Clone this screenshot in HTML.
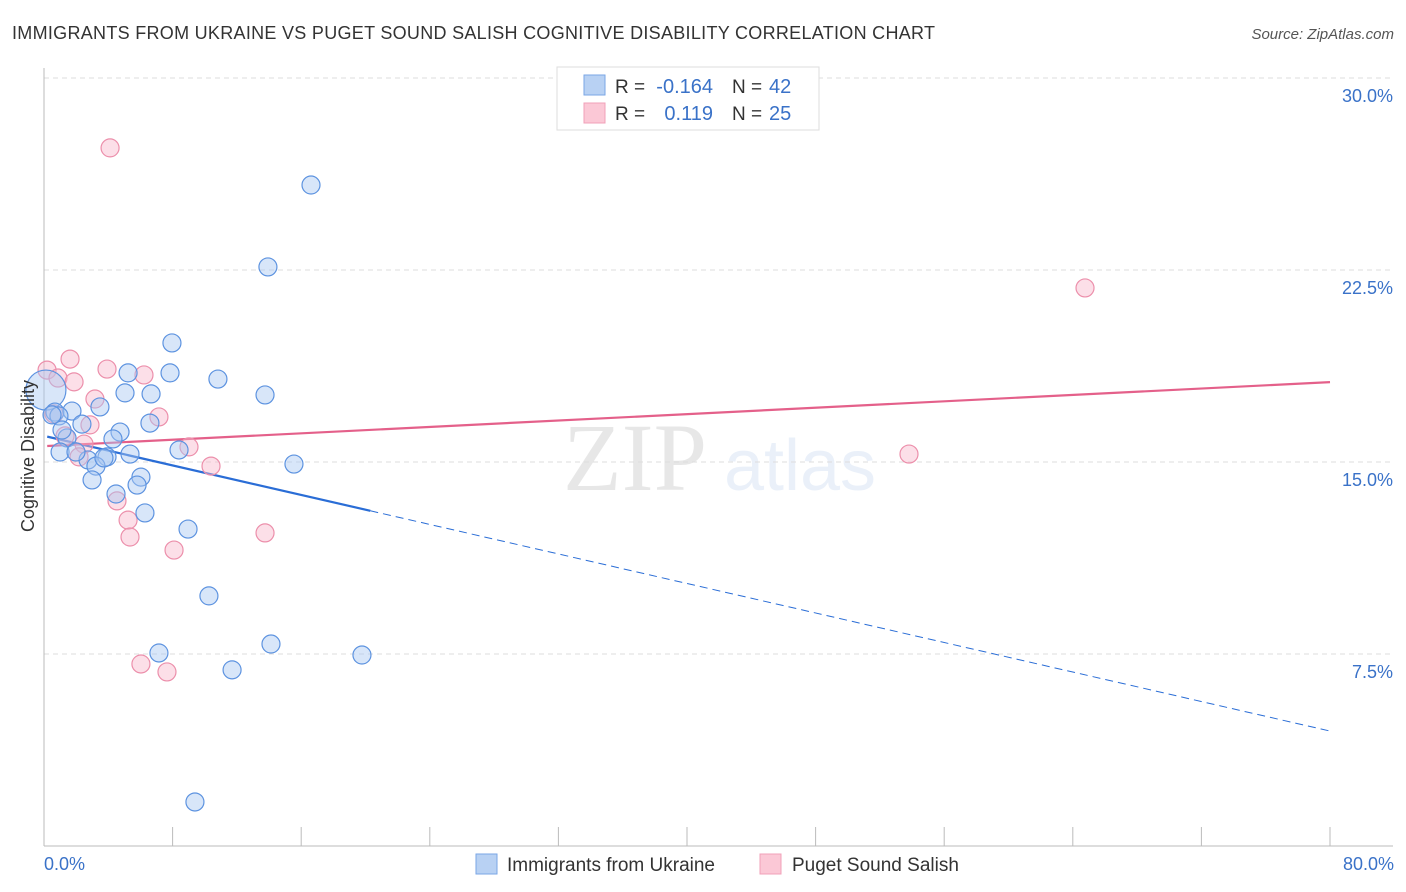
<!DOCTYPE html>
<html><head><meta charset="utf-8"><style>
body{margin:0;background:#fff;font-family:"Liberation Sans",sans-serif;}
svg{display:block}
</style></head><body>
<svg id="chart" width="1406" height="892" xmlns="http://www.w3.org/2000/svg">
<text x="12" y="39" font-size="18" fill="#333" textLength="923">IMMIGRANTS FROM UKRAINE VS PUGET SOUND SALISH COGNITIVE DISABILITY CORRELATION CHART</text>
<text x="1394" y="39" font-size="15" fill="#555" font-style="italic" text-anchor="end">Source: ZipAtlas.com</text>
<g opacity="0.11">
<text x="635" y="490" font-size="96" font-family="Liberation Serif,serif" fill="#333" text-anchor="middle">ZIP</text>
<text x="800" y="490" font-size="72" fill="#4a80d0" text-anchor="middle">atlas</text>
</g>
<g id="grid"></g><g id="axes"></g><g id="lines"></g><g id="points"></g>
<text transform="translate(34,456) rotate(-90)" font-size="18" fill="#333" text-anchor="middle">Cognitive Disability</text>
<text x="44" y="870" font-size="18" fill="#3a72c8">0.0%</text>
<text x="1394" y="870" font-size="18" fill="#3a72c8" text-anchor="end">80.0%</text>
<g>
<rect x="557" y="67" width="262" height="63" fill="#fff" stroke="#ddd"/>
<rect x="584" y="75" width="21" height="20" fill="#b8d1f3" stroke="#7aa6e6"/>
<rect x="584" y="103" width="21" height="20" fill="#fbc8d6" stroke="#f0a0b8"/>
<text x="615" y="93" font-size="19" fill="#333">R = </text><text x="713" y="93" font-size="20" fill="#3a72c8" text-anchor="end">-0.164</text>
<text x="732" y="93" font-size="19" fill="#333">N = </text><text x="769" y="93" font-size="20" fill="#3a72c8">42</text>
<text x="615" y="120" font-size="19" fill="#333">R = </text><text x="713" y="120" font-size="20" fill="#3a72c8" text-anchor="end">0.119</text>
<text x="732" y="120" font-size="19" fill="#333">N = </text><text x="769" y="120" font-size="20" fill="#3a72c8">25</text>
</g>
<g>
<rect x="476" y="854" width="21" height="20" fill="#b8d1f3" stroke="#7aa6e6"/>
<text x="507" y="871" font-size="19" fill="#333">Immigrants from Ukraine</text>
<rect x="760" y="854" width="21" height="20" fill="#fbc8d6" stroke="#f0a0b8"/>
<text x="792" y="871" font-size="19" fill="#333">Puget Sound Salish</text>
</g>
</svg>
<script>
const yTicks=[7.5,15,22.5,30];
const yTickLabels=["7.5%","15.0%","22.5%","30.0%"];
const xTicks=[0,8,16,24,32,40,48,56,64,72,80];
const blueX=[16.61,13.93,7.96,7.84,5.23,10.82,5.04,6.66,13.75,3.48,0.12,0.68,1.74,0.93,2.36,6.59,4.73,4.29,1.43,8.40,1.00,5.35,3.92,2.74,3.23,15.55,6.03,2.99,5.79,4.48,6.28,8.96,10.26,7.15,14.12,19.78,11.70,9.39,1.99,3.73,0.50,1.12];
const blueY=[25.82,22.62,19.65,18.48,18.48,18.24,17.70,17.66,17.62,17.15,17.81,16.95,16.99,16.80,16.48,16.52,16.17,15.90,15.94,15.47,15.39,15.31,15.20,15.08,14.84,14.92,14.41,14.30,14.10,13.75,13.01,12.38,9.77,7.54,7.89,7.46,6.88,1.72,15.39,15.16,16.84,16.25];
const pinkX=[4.11,64.76,1.62,0.19,3.92,0.87,6.22,1.87,3.17,0.62,7.15,2.86,1.31,2.49,9.02,2.18,10.39,53.81,4.54,5.23,13.75,5.35,8.09,6.03,7.65];
const pinkY=[27.27,21.80,19.02,18.59,18.63,18.28,18.40,18.13,17.46,16.88,16.76,16.45,16.02,15.70,15.59,15.20,14.84,15.31,13.48,12.73,12.23,12.07,11.56,7.11,6.80];
const blueTrend=[16.02,4.49];
const pinkTrend=[15.62,18.12];
const blueSolidEnd=20.3;
const NS="http://www.w3.org/2000/svg";
const X=v=>44+v/80*1286, Y=v=>846-v/7.5*192;
function mk(tag,attrs,parent){const e=document.createElementNS(NS,tag);for(const k in attrs)e.setAttribute(k,attrs[k]);parent.appendChild(e);return e;}
const grid=document.getElementById('grid'),axes=document.getElementById('axes'),lines=document.getElementById('lines'),pts=document.getElementById('points');
yTicks.forEach((t,i)=>{
 const g=mk('line',{x1:44,x2:1393,y1:Y(t),y2:Y(t),stroke:'#ddd','stroke-dasharray':'5,4'},grid);
 
 
 const l=mk('text',{x:1393,y:Y(t)+24,'font-size':18,fill:'#3a72c8','text-anchor':'end'},grid);
 l.textContent=yTickLabels[i];
 
 
});
const ya=mk('line',{x1:44,x2:44,y1:68,y2:846,stroke:'#bbb'},axes);


const xa=mk('line',{x1:44,x2:1393,y1:846,y2:846,stroke:'#bbb'},axes);


xTicks.forEach(t=>{
 const tk=mk('line',{x1:X(t),x2:X(t),y1:827,y2:846,stroke:'#bbb'},axes);
 
 
});
function dot(x,y,r,fill,stroke,name){
 const c=mk('circle',{cx:X(x),cy:Y(y),r:r,fill:fill,'fill-opacity':0.45,stroke:stroke,'stroke-width':1.2},pts);
 
 
}
pinkX.forEach((x,i)=>dot(x,pinkY[i],9,'#f9b9cc','#ec8fab','salish-point'));
blueX.forEach((x,i)=>dot(x,blueY[i],i===10?20:9,'#a9c8f1','#5d93e0','ukraine-point'));
const by=x=>blueTrend[0]+(blueTrend[1]-blueTrend[0])*x/80;
const py=x=>pinkTrend[0]+(pinkTrend[1]-pinkTrend[0])*x/80;
const b1=mk('line',{x1:X(0.2),y1:Y(by(0.2)),x2:X(blueSolidEnd),y2:Y(by(blueSolidEnd)),stroke:'#2a6dd6','stroke-width':2.2},lines);


const b2=mk('line',{x1:X(blueSolidEnd),y1:Y(by(blueSolidEnd)),x2:X(80),y2:Y(by(80)),stroke:'#2a6dd6','stroke-width':1,'stroke-dasharray':'8,5'},lines);


const p1=mk('line',{x1:X(0.2),y1:Y(py(0.2)),x2:X(80),y2:Y(py(80)),stroke:'#e4608a','stroke-width':2.2},lines);


</script>
</body></html>
